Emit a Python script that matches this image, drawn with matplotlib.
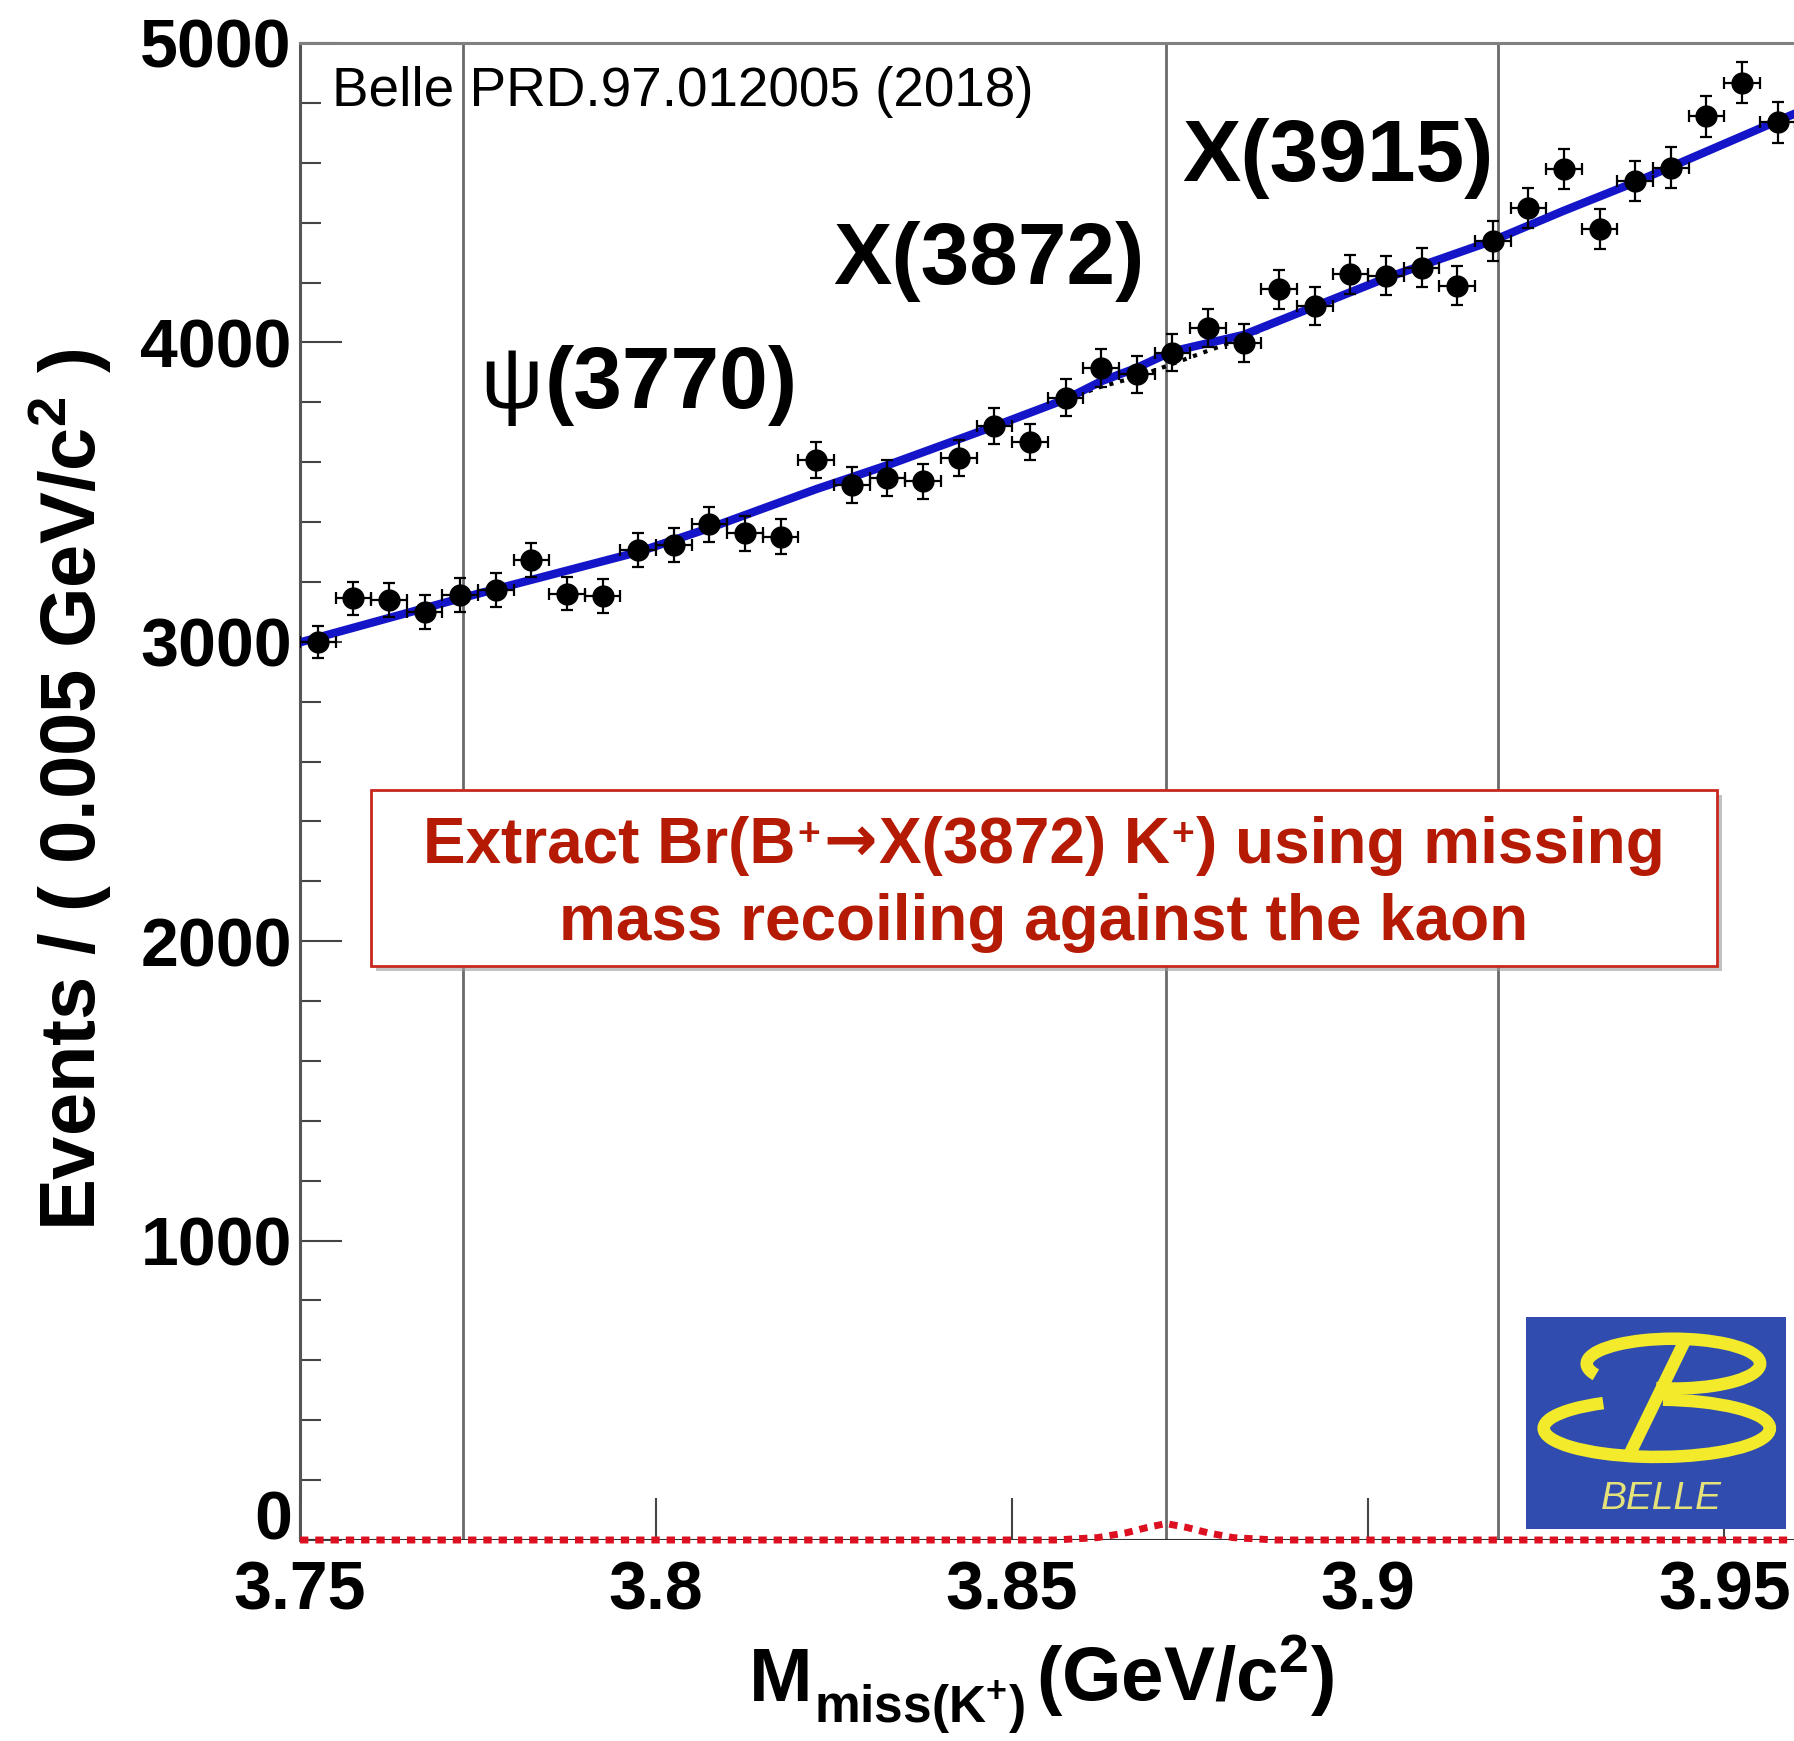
import numpy as np
import matplotlib
matplotlib.use("Agg")
import matplotlib.pyplot as plt
import matplotlib.transforms as mtransforms
from matplotlib.patches import Rectangle, Arc

plt.rcParams['font.family'] = ['Liberation Sans', 'DejaVu Sans']
plt.rcParams['mathtext.fontset'] = 'custom'
plt.rcParams['mathtext.rm'] = 'Liberation Sans:bold'
plt.rcParams['mathtext.it'] = 'Liberation Sans:bold'
plt.rcParams['mathtext.bf'] = 'Liberation Sans:bold'

# data (bin width 0.005 GeV/c^2)
bin_centers = 3.7525 + 0.005 * np.arange(42)
counts = [2999, 3145, 3139, 3100, 3156, 3172, 3273, 3161, 3152, 3306,
          3323, 3393, 3362, 3351, 3607, 3523, 3546, 3536, 3614, 3720,
          3667, 3815, 3915, 3893, 3966, 4049, 3999, 4177, 4121, 4227,
          4222, 4250, 4189, 4339, 4450, 4579, 4378, 4540, 4584, 4755,
          4868, 4735]

# total fit (blue)
fit_x = [3.750, 3.7725, 3.7975, 3.8075, 3.8225, 3.8325, 3.8475, 3.8575,
         3.8625, 3.8675, 3.8725, 3.8825, 3.8925, 3.9025, 3.9175, 3.9275,
         3.9375, 3.9575, 3.9600]
fit_y = [2998, 3145, 3300, 3380, 3510, 3590, 3720, 3810,
         3870, 3915, 3970, 4025, 4120, 4215, 4340, 4440,
         4535, 4740, 4765]
# background only (black dotted)
bkg_x = [3.750, 3.7725, 3.7975, 3.8075, 3.8225, 3.8325, 3.8475, 3.8575,
         3.8625, 3.8675, 3.8725, 3.8775, 3.8825, 3.8925, 3.9025, 3.9175,
         3.9275, 3.9375, 3.9575, 3.9600]
bkg_y = [2998, 3145, 3300, 3380, 3510, 3590, 3720, 3810,
         3852, 3885, 3928, 3972, 4015, 4120, 4215, 4340,
         4440, 4535, 4740, 4765]
# X(3872) signal (red dotted)
sig_x = [3.750, 3.856, 3.862, 3.866, 3.869, 3.8716, 3.8745, 3.8775, 3.881, 3.887, 3.960]
sig_y = [0, 0, 8, 24, 42, 55, 42, 24, 8, 0, 0]

peak_pos = [3.7729, 3.8716, 3.9183]
xticks = [3.75, 3.8, 3.85, 3.9, 3.95]
xtick_labels = ["3.75", "3.8", "3.85", "3.9", "3.95"]
yticks = [0, 1000, 2000, 3000, 4000, 5000]

W, H = 1794, 1741
def fx(p):
    return p / W
def fy(p):
    return 1 - p / H

fig = plt.figure(figsize=(W / 100, H / 100), dpi=100)
renderer = fig.canvas.get_renderer()

def text_row(parts, y_base, x_left=None, x_center=None, gaps=None):
    # lay pieces of text side by side on one baseline (pixels from top-left)
    items = []
    for s, dy, kw in parts:
        t = fig.text(0, fy(y_base + dy), s, ha='left', va='baseline', **kw)
        items.append(t)
    widths = [t.get_window_extent(renderer).width for t in items]
    gaps = gaps or [0] * (len(items) - 1)
    total = sum(widths) + sum(gaps)
    x = x_left if x_left is not None else x_center - total / 2
    for i, (t, w) in enumerate(zip(items, widths)):
        t.set_x(fx(x))
        x += w + (gaps[i] if i < len(gaps) else 0)
    return items

ax = fig.add_axes([fx(300), fy(1540), fx(1494), (1540 - 43) / H])
ax.set_xlim(3.75, 3.9598)
ax.set_ylim(0, 5000)

for xp in peak_pos:
    ax.axvline(xp, color='#6a6a6a', lw=2.0, zorder=1)

ax.plot(bkg_x, bkg_y, color='black', ls=':', lw=3.0, zorder=2)
ax.plot(fit_x, fit_y, color='#1414c8', lw=6, zorder=3)
ax.axhline(0, color='#333333', lw=1.5, zorder=3.5)
ax.plot(sig_x, sig_y, color='#dc1020', lw=5, ls=(0, (1.2, 1.0)),
        zorder=4, clip_on=False)

ax.errorbar(bin_centers, counts, yerr=np.sqrt(counts), xerr=0.0025,
            fmt='o', color='black', ms=15, elinewidth=1.6, capsize=4.5,
            capthick=1.6, zorder=5)

for s in ['right', 'bottom']:
    ax.spines[s].set_visible(False)
ax.spines['left'].set_color('#555555')
ax.spines['left'].set_linewidth(2.2)
ax.spines['top'].set_color('#808080')
ax.spines['top'].set_linewidth(2.2)

ax.set_xticks(xticks)
ax.set_xticklabels(xtick_labels)
ax.set_yticks(yticks)
ax.set_yticks(np.arange(0, 5001, 200), minor=True)
ax.tick_params(axis='x', which='major', direction='in', length=30, width=1.5,
               color='#444444', pad=14, labelsize=49)
ax.tick_params(axis='x', which='minor', length=0)
ax.tick_params(axis='y', which='major', direction='in', length=30, width=1.5,
               color='#444444', pad=6, labelsize=49)
ax.tick_params(axis='y', which='minor', direction='in', length=15, width=1.5,
               color='#444444')
for lab in ax.get_xticklabels() + ax.get_yticklabels():
    lab.set_fontweight('bold')
# the "0" label sits a little higher, as in the original
ylabs = ax.get_yticklabels()
ylabs[0].set_transform(ylabs[0].get_transform() +
                       mtransforms.ScaledTranslation(0, 26 / 100, fig.dpi_scale_trans))

# axis titles
bold = dict(fontweight='bold', color='black')
text_row([("M", 0, dict(fontsize=55, **bold)),
          (r"miss(K$^{+}$)", 22, dict(fontsize=37, **bold)),
          (r"(GeV/c$^{2}$)", 0, dict(fontsize=55, **bold))],
         y_base=1701, x_left=749, gaps=[1, 12])
fig.text(fx(70), fy(790), r"Events / ( 0.005 GeV/c$^{2}$ )", rotation=90,
         ha='center', va='center', fontsize=56, fontweight='bold')

# annotations
fig.text(fx(332), fy(106), "Belle PRD.97.012005 (2018)", ha='left',
         va='baseline', fontsize=39.5)
text_row([("ψ", 0, dict(fontsize=63, fontweight='normal')),
          ("(3770)", 0, dict(fontsize=63, fontweight='bold'))],
         y_base=408, x_left=480, gaps=[2])
fig.text(fx(833), fy(284), "X(3872)", ha='left', va='baseline',
         fontsize=63, fontweight='bold')
fig.text(fx(1182), fy(181), "X(3915)", ha='left', va='baseline',
         fontsize=63, fontweight='bold')

# red call-out box
bx0, bx1, by0, by1 = 371, 1717, 790, 966
fig.patches.append(Rectangle((fx(bx0 + 5), fy(by1 + 5)), (bx1 - bx0) / W,
                             (by1 - by0) / H, transform=fig.transFigure,
                             facecolor='#9a9a9a', edgecolor='none', alpha=0.6,
                             zorder=8))
fig.patches.append(Rectangle((fx(bx0), fy(by1)), (bx1 - bx0) / W,
                             (by1 - by0) / H, transform=fig.transFigure,
                             facecolor='white', edgecolor='#c8281e', lw=2.0,
                             zorder=9))
red = '#b41a04'
rk = dict(fontsize=46, fontweight='bold', color=red, zorder=10)
rk_sup = dict(fontsize=28, fontweight='bold', color=red, zorder=10)
text_row([("Extract Br(B", 0, rk),
          ("+", -18, rk_sup),
          ("→", -2, dict(fontsize=46, fontweight='bold', color=red, zorder=10,
                         family='DejaVu Sans')),
          ("X(3872) K", 0, rk),
          ("+", -18, rk_sup),
          (") using missing", 0, rk)],
         y_base=863, x_center=1044, gaps=[2, 3, 2, 2, 2])
fig.text(fx(1044), fy(940), "mass recoiling against the kaon",
         ha='center', va='baseline', **rk)

# Belle logo
lax = fig.add_axes([fx(1526), fy(1529), 260 / W, 212 / H])
lax.set_facecolor('#2f4cae')
lax.set_xlim(0, 1)
lax.set_ylim(0, 1)
lax.set_xticks([])
lax.set_yticks([])
for s in lax.spines.values():
    s.set_visible(False)
yel = '#f2ea2a'
lax.add_patch(Arc((0.567, 0.78), 0.667, 0.235, theta1=-120, theta2=190,
                  color=yel, lw=9))
lax.add_patch(Arc((0.503, 0.475), 0.87, 0.27, theta1=150, theta2=440,
                  color=yel, lw=9))
lax.plot([0.40, 0.618], [0.357, 0.906], color=yel, lw=9,
         solid_capstyle='butt')
lax.text(0.52, 0.14, "BELLE", ha='center', va='center', fontsize=28,
         style='italic', color='#e6e27a')

fig.savefig("out.png", dpi=100)
